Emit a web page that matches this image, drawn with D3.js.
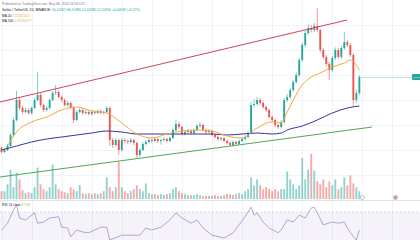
<!DOCTYPE html>
<html>
<head>
<meta charset="utf-8">
<script src="https://cdn.jsdelivr.net/npm/d3@7"></script>
<style>
  body { margin: 0; background: #fff; }
  svg { display: block; }
  text { font-family: "Liberation Sans", Arial, sans-serif; }
</style>
</head>
<body>
<svg id="chart" width="420" height="240"></svg>
<script>
// daily candles, open = previous close
var firstOpen = 0.0806;
var closes = [
  0.0790,0.0798,0.0814,0.0858,0.0918,0.0998,0.0966,0.0950,0.0958,0.0946,
  0.0966,0.0998,0.1018,0.0978,0.0958,0.0966,0.0998,0.1026,0.1030,0.1010,
  0.0998,0.0978,0.0986,0.0966,0.0918,0.0950,0.0958,0.0946,0.0950,0.0942,
  0.0950,0.0946,0.0954,0.0946,0.0950,0.0966,0.0838,0.0818,0.0838,0.0798,
  0.0838,0.0834,0.0830,0.0838,0.0826,0.0778,0.0798,0.0822,0.0830,0.0838,
  0.0834,0.0842,0.0834,0.0838,0.0842,0.0834,0.0846,0.0878,0.0902,0.0890,
  0.0862,0.0870,0.0874,0.0866,0.0878,0.0894,0.0898,0.0878,0.0870,0.0874,
  0.0858,0.0850,0.0842,0.0846,0.0834,0.0826,0.0818,0.0830,0.0822,0.0834,
  0.0842,0.0850,0.0866,0.0978,0.0982,0.0998,0.0986,0.0970,0.0958,0.0930,
  0.0918,0.0898,0.0890,0.0910,0.0998,0.1010,0.1038,0.1070,0.1098,0.1158,
  0.1218,0.1266,0.1286,0.1278,0.1294,0.1278,0.1198,0.1170,0.1142,0.1118,
  0.1166,0.1198,0.1170,0.1206,0.1230,0.1218,0.1178,0.0998,0.1026,0.1090
];
var highs = [
  0.0812,0.0806,0.0822,0.0866,0.0926,0.1034,0.1006,0.0974,0.0966,0.0964,
  0.0972,0.1006,0.1110,0.1026,0.0984,0.0974,0.1004,0.1034,0.1058,0.1038,
  0.1016,0.1004,0.0994,0.0992,0.0972,0.0958,0.0966,0.0964,0.0958,0.0956,
  0.0958,0.0956,0.0962,0.0960,0.0956,0.0974,0.0972,0.0846,0.0846,0.0844,
  0.0846,0.0844,0.0840,0.0846,0.0844,0.0832,0.0806,0.0830,0.0838,0.0846,
  0.0844,0.0850,0.0848,0.0844,0.0850,0.0848,0.0852,0.0886,0.0918,0.0910,
  0.0896,0.0878,0.0882,0.0880,0.0884,0.0902,0.0910,0.0904,0.0884,0.0882,
  0.0878,0.0864,0.0856,0.0852,0.0850,0.0840,0.0832,0.0836,0.0836,0.0840,
  0.0848,0.0858,0.0874,0.0990,0.1002,0.1010,0.1006,0.0994,0.0976,0.0964,
  0.0936,0.0924,0.0904,0.0918,0.1006,0.1022,0.1046,0.1078,0.1108,0.1166,
  0.1226,0.1276,0.1300,0.1298,0.1306,0.1366,0.1284,0.1206,0.1178,0.1150,
  0.1174,0.1208,0.1206,0.1214,0.1270,0.1238,0.1226,0.1184,0.1040,0.1098
];
var lows = [
  0.0784,0.0786,0.0794,0.0810,0.0852,0.0912,0.0958,0.0942,0.0944,0.0938,
  0.0940,0.0962,0.0994,0.0970,0.0950,0.0952,0.0960,0.0994,0.1018,0.1004,
  0.0990,0.0972,0.0972,0.0960,0.0906,0.0914,0.0944,0.0940,0.0940,0.0936,
  0.0936,0.0940,0.0942,0.0940,0.0940,0.0946,0.0814,0.0806,0.0812,0.0778,
  0.0792,0.0826,0.0822,0.0824,0.0818,0.0766,0.0772,0.0794,0.0816,0.0824,
  0.0826,0.0828,0.0826,0.0820,0.0832,0.0828,0.0830,0.0842,0.0872,0.0882,
  0.0856,0.0856,0.0864,0.0860,0.0862,0.0872,0.0888,0.0872,0.0864,0.0864,
  0.0852,0.0844,0.0836,0.0834,0.0828,0.0820,0.0810,0.0812,0.0816,0.0818,
  0.0828,0.0836,0.0846,0.0862,0.0968,0.0976,0.0978,0.0962,0.0950,0.0924,
  0.0910,0.0890,0.0882,0.0884,0.0904,0.0990,0.1002,0.1030,0.1062,0.1090,
  0.1150,0.1210,0.1258,0.1268,0.1270,0.1268,0.1188,0.1160,0.1132,0.1078,
  0.1110,0.1158,0.1162,0.1164,0.1198,0.1210,0.1170,0.0970,0.0986,0.1018
];
var volumes = [
  8,8,15,30,12,27,20,9,6,7,
  6,12,32,15,10,8,12,35,15,10,
  8,7,6,12,10,8,14,6,5,6,
  5,6,5,6,8,22,12,8,12,38,
  12,8,6,8,10,14,10,8,16,6,
  5,5,4,5,4,5,6,10,12,8,
  6,5,4,4,4,5,4,3,3,3,
  3,4,3,3,4,5,5,4,5,6,
  5,8,10,22,14,20,14,10,12,10,
  8,10,8,10,10,28,20,15,10,14,
  42,20,30,46,29,18,15,20,12,18,
  14,20,10,12,22,14,24,16,12,8
];

// moving averages
var maFastDays = [2,5,10,15,20,25,30,35,40,45,50,55,60,65,70,75,80,85,90,93,95,97,100,103,106,110,114,116,118,119];
var maFastValues = [0.0814,0.0870,0.0910,0.0930,0.0958,0.0970,0.0954,0.0946,0.0906,0.0862,0.0846,0.0862,0.0874,0.0878,0.0874,0.0854,0.0846,0.0886,0.0910,0.0906,0.0950,0.0998,0.1058,0.1090,0.1106,0.1130,0.1146,0.1158,0.1138,0.1118];
var maSlowDays = [0,5,10,15,20,25,30,35,40,45,50,55,60,65,70,75,80,85,90,93,95,100,105,110,115,119];
var maSlowValues = [0.0798,0.0814,0.0830,0.0842,0.0850,0.0858,0.0866,0.0874,0.0870,0.0862,0.0862,0.0862,0.0862,0.0862,0.0862,0.0858,0.0862,0.0866,0.0862,0.0866,0.0878,0.0894,0.0918,0.0946,0.0966,0.0974];

// channel drawn on the chart
var resistanceDays = [-0.5, 114.9];
var resistancePrices = [0.0990, 0.1318];
var supportDays = [-0.5, 123.2];
var supportPrices = [0.0690, 0.0890];

var rsiDays = [0,2,4,5,6,8,11,12,14,16,19,20,22,23,25,27,29,31,33,35,36,40,44,46,48,50,53,56,58,60,63,65,67,70,74,77,79,81,83,84,85,87,89,92,93,95,97,99,101,103,104,105,107,110,112,114,115,117,118,119];
var rsiValues = [47.5,56,72.5,79,62.5,60,69,56,57.5,62.5,64,51,50,39,47.5,45,44,47.5,51,51,35,41,41,41,50,47.5,51,60,69,62.5,56,60,50,41,37.5,44,54,64,76,66,69,57.5,50,44,47.5,60,57.5,66,62.5,75,76,69,54,57.5,56,57.5,50,39,35,47.5];

var eventDays = [120, 131];

var headerTitle = "Published on TradingView.com, May 08, 2024 13:58 UTC";
var headerSymbol = "Stellar / TetherUS, 1D, BINANCE";
var headerOhlc = " O0.10262 H0.10980 L0.10186 C0.10900 +0.00638 (+6.22%)";
var maLabels = ["MA 20", "MA 100"];
var maLabelValues = ["0.11182150", "0.09740577"];
var rsiLabel = "RSI 14 close";
var rsiLabelValue = "47.69";

var N_SLOTS = 138;
var UP = "#26a69a", DOWN = "#ef5350";

var svg = d3.select("#chart");

var x = d3.scaleLinear().domain([-0.5, N_SLOTS - 0.5]).range([0, 415]);
var y = d3.scaleLinear().domain([0.07, 0.13]).range([174.5, 24.5]);
var yVol = d3.scaleLinear().domain([0, 50]).range([199, 150]);
var yRsi = d3.scaleLinear().domain([30, 70]).range([244, 212]);

var candles = closes.map(function(c, i) {
  return {
    i: i,
    open: i == 0 ? firstOpen : closes[i - 1],
    close: c,
    high: highs[i],
    low: lows[i],
    volume: volumes[i]
  };
});

svg.append("clipPath").attr("id", "mainClip")
  .append("rect").attr("x", 0).attr("y", 0).attr("width", 420).attr("height", 200);
svg.append("clipPath").attr("id", "rsiClip")
  .append("rect").attr("x", 0).attr("y", 201).attr("width", 420).attr("height", 39);

// grid
var grid = svg.append("g").attr("stroke", "#f0f3fa").attr("stroke-width", 1);
grid.selectAll(".vg").data(x.ticks(12)).enter().append("line")
  .attr("x1", function(d) { return Math.round(x(d)) + 0.5; })
  .attr("x2", function(d) { return Math.round(x(d)) + 0.5; })
  .attr("y1", 0).attr("y2", 240);
grid.selectAll(".hg").data(y.ticks(6)).enter().append("line")
  .attr("x1", 0).attr("x2", 420)
  .attr("y1", function(d) { return Math.round(y(d)) + 0.5; })
  .attr("y2", function(d) { return Math.round(y(d)) + 0.5; });

// pane separator
svg.append("line").attr("x1", 0).attr("x2", 420).attr("y1", 200.5).attr("y2", 200.5)
  .attr("stroke", "#e0e3eb").attr("stroke-width", 1);

var main = svg.append("g").attr("clip-path", "url(#mainClip)");

// volume
var bw = (x(1) - x(0)) * 0.62;
main.append("g").selectAll("rect").data(candles).enter().append("rect")
  .attr("x", function(d) { return x(d.i) - bw / 2; })
  .attr("width", bw)
  .attr("y", function(d) { return yVol(d.volume); })
  .attr("height", function(d) { return yVol(0) - yVol(d.volume); })
  .attr("fill", function(d) { return d.close >= d.open ? UP : DOWN; })
  .attr("fill-opacity", 0.5);

// candles
var candle = main.append("g").selectAll("g").data(candles).enter().append("g")
  .attr("fill", function(d) { return d.close >= d.open ? UP : DOWN; })
  .attr("stroke", function(d) { return d.close >= d.open ? UP : DOWN; });
candle.append("line")
  .attr("x1", function(d) { return x(d.i); })
  .attr("x2", function(d) { return x(d.i); })
  .attr("y1", function(d) { return y(d.high); })
  .attr("y2", function(d) { return y(d.low); })
  .attr("stroke-width", 0.6);
candle.append("rect")
  .attr("stroke", "none")
  .attr("x", function(d) { return x(d.i) - bw / 2; })
  .attr("width", bw)
  .attr("y", function(d) { return y(Math.max(d.open, d.close)); })
  .attr("height", function(d) { return Math.max(0.6, Math.abs(y(d.open) - y(d.close))); });

// moving averages
var maLine = d3.line()
  .x(function(d) { return x(d[0]); })
  .y(function(d) { return y(d[1]); })
  .curve(d3.curveMonotoneX);
main.append("path")
  .datum(d3.zip(maSlowDays, maSlowValues))
  .attr("d", maLine).attr("fill", "none")
  .attr("stroke", "#35359a").attr("stroke-width", 1);
main.append("path")
  .datum(d3.zip(maFastDays, maFastValues))
  .attr("d", maLine).attr("fill", "none")
  .attr("stroke", "#f2a93b").attr("stroke-width", 1);

// channel
var straight = d3.line()
  .x(function(d) { return x(d[0]); })
  .y(function(d) { return y(d[1]); });
main.append("path")
  .datum(d3.zip(resistanceDays, resistancePrices))
  .attr("d", straight).attr("fill", "none")
  .attr("stroke", "#d2435b").attr("stroke-width", 1);
main.append("path")
  .datum(d3.zip(supportDays, supportPrices))
  .attr("d", straight).attr("fill", "none")
  .attr("stroke", "#4ea84e").attr("stroke-width", 1);

// last price line + label
var last = candles[candles.length - 1];
main.append("line")
  .attr("x1", x(last.i) + 2).attr("x2", 412)
  .attr("y1", Math.round(y(last.close)) + 0.5).attr("y2", Math.round(y(last.close)) + 0.5)
  .attr("stroke", UP).attr("stroke-opacity", 0.6)
  .attr("stroke-dasharray", "1,1").attr("stroke-width", 1);
svg.append("rect")
  .attr("x", 412).attr("y", y(last.close) - 3).attr("width", 9).attr("height", 6)
  .attr("rx", 1).attr("fill", UP);
svg.append("text")
  .attr("x", 412.6).attr("y", y(last.close) + 0.9)
  .attr("font-size", 2.4).attr("fill", "#fff")
  .attr("textLength", 6.8).attr("lengthAdjust", "spacingAndGlyphs")
  .text(d3.format(".4f")(last.close));

// event markers
svg.selectAll(".ev").data(eventDays).enter().append("circle")
  .attr("cx", function(d) { return x(d); })
  .attr("cy", 197.5).attr("r", 2)
  .attr("fill", function(d, i) { return i == 0 ? "#fff" : "#e8a0a8"; })
  .attr("stroke", "#9598a1").attr("stroke-width", 0.6);

// RSI pane
var rsiG = svg.append("g").attr("clip-path", "url(#rsiClip)");
rsiG.append("rect")
  .attr("x", 0).attr("width", 420)
  .attr("y", yRsi(70)).attr("height", yRsi(30) - yRsi(70))
  .attr("fill", "#7e57c2").attr("fill-opacity", 0.08);
rsiG.append("line")
  .attr("x1", 0).attr("x2", 420).attr("y1", yRsi(70)).attr("y2", yRsi(70))
  .attr("stroke", "#c9c2e0").attr("stroke-width", 0.6).attr("stroke-dasharray", "2,2");
rsiG.append("path")
  .datum(d3.zip(rsiDays, rsiValues))
  .attr("d", d3.line()
    .x(function(d) { return x(d[0]); })
    .y(function(d) { return yRsi(d[1]); }))
  .attr("fill", "none").attr("stroke", "#9387bf").attr("stroke-width", 0.7);

// legends
var fs = 3.3;
svg.append("text").attr("x", 2).attr("y", 5).attr("font-size", fs)
  .attr("fill", "#787b86").text(headerTitle);
var l2 = svg.append("text").attr("x", 2).attr("y", 11.2).attr("font-size", fs);
l2.append("tspan").attr("fill", "#131722").text(headerSymbol);
l2.append("tspan").attr("fill", UP).text(headerOhlc);
var maColors = ["#f2a93b", "#d8b24a"];
maLabels.forEach(function(lbl, k) {
  var t = svg.append("text").attr("x", 2).attr("y", 17 + k * 4.6).attr("font-size", fs);
  t.append("tspan").attr("fill", "#131722").text(lbl + " ");
  t.append("tspan").attr("fill", maColors[k]).text(maLabelValues[k]);
});
var rl = svg.append("text").attr("x", 2).attr("y", 205.5).attr("font-size", fs);
rl.append("tspan").attr("fill", "#131722").text(rsiLabel + " ");
rl.append("tspan").attr("fill", "#c9a86a").text(rsiLabelValue);
</script>
</body>
</html>
